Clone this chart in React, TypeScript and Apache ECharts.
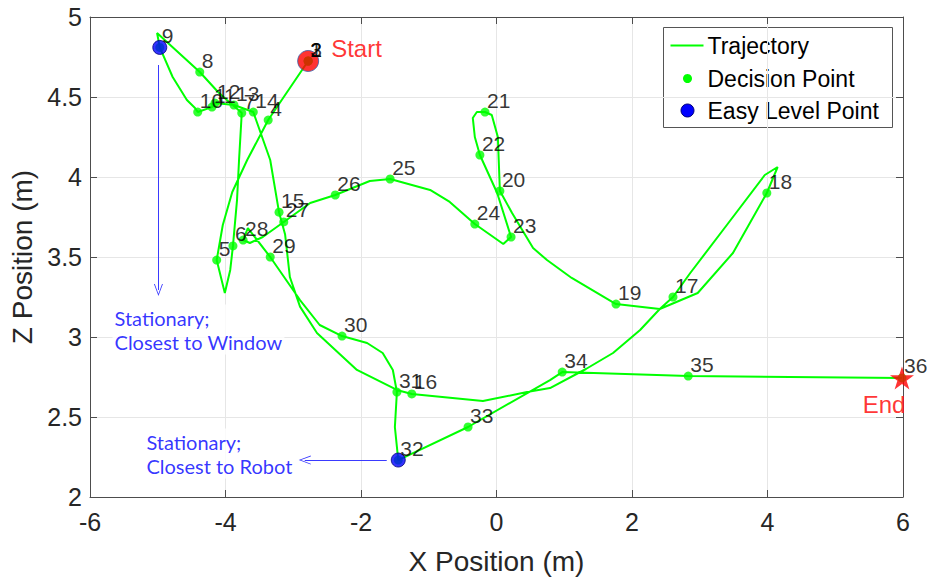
import React, { useEffect, useRef } from 'react';
import * as echarts from 'echarts';

// ---- data ----
const pointIds = ['1', '2', '3', '4', '5', '6', '7', '8', '9', '10', '11', '12', '13', '14', '15', '16', '17', '18',
  '19', '20', '21', '22', '23', '24', '25', '26', '27', '28', '29', '30', '31', '32', '33', '34', '35', '36'];
const pointX = [-2.78, -2.78, -2.78, -3.37, -4.13, -3.89, -3.76, -4.38, -4.97, -4.41, -4.2, -4.155, -3.875, -3.59,
  -3.21, -1.25, 2.605, 3.99, 1.764, 0.05, -0.17, -0.245, 0.215, -0.32, -1.57, -2.38, -3.14, -3.74, -3.34, -2.28,
  -1.47, -1.45, -0.42, 0.97, 2.83, 5.985];
const pointY = [4.725, 4.725, 4.725, 4.356, 3.481, 3.569, 4.4, 4.656, 4.81, 4.406, 4.437, 4.462, 4.45, 4.406, 3.78,
  2.644, 3.25, 3.9, 3.206, 3.9125, 4.406, 4.1375, 3.625, 3.706, 3.9875, 3.8875, 3.719, 3.606, 3.5, 3.006, 2.656,
  2.231, 2.4375, 2.781, 2.756, 2.744];
const easyIds = ['9', '32'];
const startIds = ['1'];
const endIds = ['36'];

const trajX = [-2.78, -3.37, -3.68, -3.9, -4.04, -4.13, -4.01, -3.93, -3.89, -3.83, -3.8, -3.76, -3.875, -3.98,
  -4.11, -4.38, -5.01, -4.97, -4.78, -4.57, -4.45, -4.41, -4.2, -4.155, -3.875, -3.59, -3.34, -3.21, -3.12, -3.05,
  -2.9, -2.65, -2.06, -1.47, -1.25, -0.2, 0.45, 0.79, 1.32, 1.72, 2.12, 2.41, 2.605, 2.86, 3.4, 3.96, 4.15, 3.99,
  3.49, 2.97, 2.41, 1.764, 1.11, 0.745, 0.54, 0.38, 0.23, 0.1, 0.05, 0.02, -0.07, -0.17, -0.29, -0.35, -0.32,
  -0.245, 0.01, 0.215, 0.1, -0.32, -0.69, -0.98, -1.57, -1.87, -2.38, -2.75, -3.14, -3.45, -3.64, -3.74, -3.67,
  -3.34, -2.9, -2.61, -2.28, -1.91, -1.68, -1.53, -1.47, -1.5, -1.45, -0.42, 0.79, 0.97, 2.83, 5.985];
const trajY = [4.725, 4.356, 4.106, 3.906, 3.7, 3.481, 3.275, 3.419, 3.569, 3.856, 4.106, 4.4, 4.444, 4.481, 4.531,
  4.656, 4.9, 4.81, 4.625, 4.481, 4.431, 4.406, 4.437, 4.462, 4.45, 4.406, 4.106, 3.78, 3.64, 3.375, 3.19, 3.025,
  2.794, 2.669, 2.644, 2.6, 2.656, 2.681, 2.8, 2.9, 3.044, 3.175, 3.25, 3.4, 3.7, 4.0125, 4.0625, 3.9, 3.525, 3.275,
  3.175, 3.206, 3.369, 3.481, 3.556, 3.669, 3.775, 3.875, 3.9125, 4.25, 4.3875, 4.406, 4.406, 4.369, 4.25, 4.1375,
  3.9, 3.625, 3.581, 3.706, 3.844, 3.919, 3.9875, 3.975, 3.8875, 3.8375, 3.719, 3.625, 3.5875, 3.606, 3.681, 3.5,
  3.231, 3.075, 3.006, 2.9625, 2.9, 2.794, 2.656, 2.4375, 2.231, 2.4375, 2.731, 2.781, 2.756, 2.744];

const annotationTexts = ['Stationary;\nClosest to Window', 'Stationary;\nClosest to Robot'];
const annotationX = [-5.66, -5.19];
const annotationY = [3.2, 2.425];
const arrowFromX = [-4.99, -1.62];
const arrowFromY = [4.7, 2.231];
const arrowToX = [-4.99, -2.83];
const arrowToY = [3.294, 2.231];

const legendNames = ['Trajectory', 'Decision Point', 'Easy Level Point'];

const xMin = -6, xMax = 6, xStep = 2;
const yMin = 2, yMax = 5, yStep = 0.5;

// ---- style ----
const FONT = '"Liberation Sans", Arial, Helvetica, sans-serif';
const GREEN = '#00ff00';
const BLUE = '#0000ff';
const RED = '#ff0000';
const AXIS = '#4d4d4d';
const STAR = 'path://M50,0L61.2,34.5L97.6,34.5L68.2,55.9L79.4,90.5L50,69.1L20.6,90.5L31.8,55.9L2.4,34.5L38.8,34.5Z';
const CHEVRON = 'path://M5,0L10,12L9,12L5,2.2L1,12L0,12Z';

const pt = (id: string) => {
  const i = pointIds.indexOf(id);
  return [pointX[i], pointY[i]];
};

export default function App() {
  const ref = useRef<HTMLDivElement>(null);
  useEffect(() => {
    if (!ref.current) return;
    const chart = echarts.init(ref.current, null, { renderer: 'svg' });
    const axisLine = { show: true, onZero: false, lineStyle: { color: AXIS, width: 1 } };
    const axisTick = { show: true, inside: true, length: 7, lineStyle: { color: AXIS } };
    const option: any = {
      animation: false,
      backgroundColor: '#fff',
      textStyle: { fontFamily: FONT },
      grid: { left: 90, right: 25, top: 17, bottom: 83, containLabel: false },
      xAxis: [
        {
          type: 'value', min: xMin, max: xMax, interval: xStep, position: 'bottom',
          axisLine, axisTick,
          splitLine: { show: true, lineStyle: { color: '#e6e6e6', width: 1 } },
          axisLabel: { fontSize: 25, color: '#262626', margin: 12, fontFamily: FONT },
          name: 'X Position (m)', nameLocation: 'middle', nameGap: 50,
          nameTextStyle: { fontSize: 28, color: '#262626', fontFamily: FONT },
        },
        {
          type: 'value', min: xMin, max: xMax, interval: xStep, position: 'top',
          axisLine, axisTick, axisLabel: { show: false }, splitLine: { show: false },
        },
      ],
      yAxis: [
        {
          type: 'value', min: yMin, max: yMax, interval: yStep, position: 'left',
          axisLine, axisTick,
          splitLine: { show: true, lineStyle: { color: '#e6e6e6', width: 1 } },
          axisLabel: { fontSize: 25, color: '#262626', margin: 8, fontFamily: FONT },
          name: 'Z Position (m)', nameLocation: 'middle', nameGap: 45,
          nameTextStyle: { fontSize: 28, color: '#262626', fontFamily: FONT },
        },
        {
          type: 'value', min: yMin, max: yMax, interval: yStep, position: 'right',
          axisLine, axisTick, axisLabel: { show: false }, splitLine: { show: false },
        },
      ],
      series: [
        {
          type: 'line', name: legendNames[0], data: trajX.map((x, i) => [x, trajY[i]]),
          showSymbol: false, symbol: 'none', lineStyle: { color: GREEN, width: 2 }, z: 2, silent: true,
          emphasis: { disabled: true },
        },
        {
          type: 'scatter', name: legendNames[1], data: pointIds.map(pt), symbolSize: 9,
          itemStyle: { color: GREEN }, z: 3, silent: true, emphasis: { disabled: true },
        },
        {
          type: 'scatter', name: legendNames[2], data: easyIds.map(pt), symbolSize: 14,
          itemStyle: { color: BLUE, borderColor: '#00007a', borderWidth: 1 }, z: 4, silent: true,
          emphasis: { disabled: true },
        },
        {
          type: 'scatter', name: 'Start', data: startIds.map(pt), symbolSize: 21,
          itemStyle: { color: RED, borderColor: '#3b5ba8', borderWidth: 1 }, z: 4, silent: true,
          emphasis: { disabled: true },
          label: {
            show: true, formatter: 'Start', position: 'right', distance: 12, offset: [0, -13],
            color: RED, fontSize: 24, fontFamily: FONT,
          },
        },
        {
          type: 'scatter', name: 'End', data: endIds.map(pt), symbol: STAR, symbolSize: [24, 23],
          itemStyle: { color: RED }, z: 4, silent: true, emphasis: { disabled: true },
          label: {
            show: true, formatter: 'End', position: 'bottom', distance: 3, offset: [-18, 0],
            color: RED, fontSize: 24, fontFamily: FONT,
          },
        },
        {
          type: 'scatter', name: 'ids', data: pointIds.map((id) => ({ name: id, value: pt(id) })),
          symbolSize: 2, itemStyle: { color: 'rgba(0,0,0,0)' }, z: 6, silent: true,
          emphasis: { disabled: true },
          label: {
            show: true, formatter: '{b}', position: [3, -11], align: 'left', verticalAlign: 'middle',
            fontSize: 21, color: '#000', fontFamily: FONT,
          },
        },
        {
          type: 'scatter', name: 'notes',
          data: annotationTexts.map((t, i) => ({ name: t, value: [annotationX[i], annotationY[i]] })),
          symbolSize: 1, itemStyle: { color: 'rgba(0,0,0,0)' }, z: 5, silent: true,
          emphasis: { disabled: true },
          label: {
            show: true, formatter: '{b}', position: [0, 0], align: 'left', verticalAlign: 'top',
            fontSize: 20, lineHeight: 24, color: BLUE, fontFamily: 'Lato, "Noto Sans", sans-serif',
            backgroundColor: '#fff', padding: [1, 2],
          },
          markLine: {
            silent: true, symbol: ['none', CHEVRON], symbolSize: [9, 12],
            lineStyle: { color: '#3a3aff', width: 1, type: 'solid' },
            label: { show: false }, emphasis: { disabled: true },
            data: arrowFromX.map((x, i) => [
              { coord: [x, arrowFromY[i]] },
              { coord: [arrowToX[i], arrowToY[i]] },
            ]),
          },
        },
      ],
      graphic: [
        {
          type: 'group', left: 663, top: 27, z: 100,
          children: [
            { type: 'rect', shape: { x: 0, y: 0, width: 229, height: 100 }, style: { fill: '#fff', stroke: '#555', lineWidth: 1 } },
            { type: 'line', shape: { x1: 7, y1: 18, x2: 40, y2: 18 }, style: { stroke: GREEN, lineWidth: 2 } },
            { type: 'circle', shape: { cx: 24, cy: 51, r: 4.5 }, style: { fill: GREEN } },
            { type: 'circle', shape: { cx: 24, cy: 83, r: 6.5 }, style: { fill: BLUE, stroke: '#00007a', lineWidth: 1 } },
            { type: 'text', x: 44, y: 18, style: { text: legendNames[0], fontSize: 23, fontFamily: FONT, fill: '#000', verticalAlign: 'middle' } },
            { type: 'text', x: 44, y: 51, style: { text: legendNames[1], fontSize: 23, fontFamily: FONT, fill: '#000', verticalAlign: 'middle' } },
            { type: 'text', x: 44, y: 83, style: { text: legendNames[2], fontSize: 23, fontFamily: FONT, fill: '#000', verticalAlign: 'middle' } },
          ],
        },
      ],
    };
    chart.setOption(option);
    return () => chart.dispose();
  }, []);
  return (
    <div
      ref={ref}
      style={{ position: 'absolute', left: 0, top: 0, width: 928, height: 580, background: '#fff' }}
    />
  );
}
